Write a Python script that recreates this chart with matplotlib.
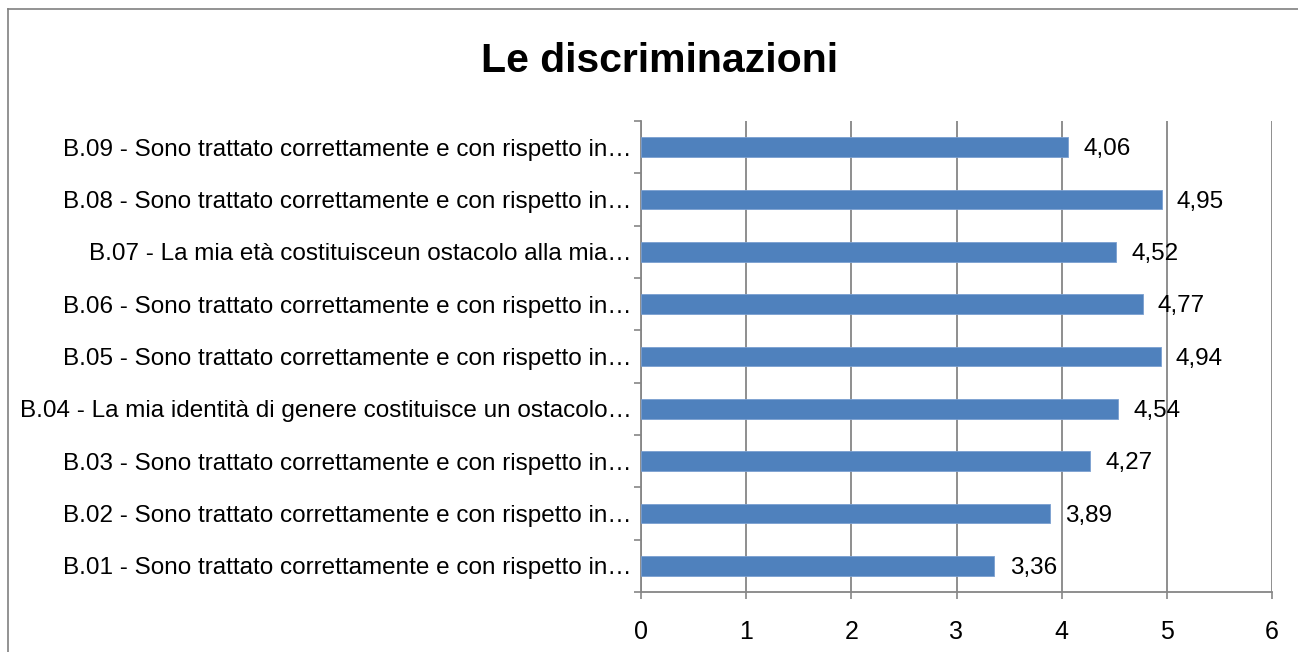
import matplotlib
matplotlib.use("Agg")
import matplotlib.pyplot as plt
from matplotlib.lines import Line2D
import numpy as np

plt.rcParams['font.family'] = ['Liberation Sans Narrow', 'Liberation Sans', 'DejaVu Sans']

title = "Le discriminazioni"
categories = [
    "B.01 - Sono trattato correttamente e con rispetto in…",
    "B.02 - Sono trattato correttamente e con rispetto in…",
    "B.03 - Sono trattato correttamente e con rispetto in…",
    "B.04 - La mia identità di genere costituisce un ostacolo…",
    "B.05 - Sono trattato correttamente e con rispetto in…",
    "B.06 - Sono trattato correttamente e con rispetto in…",
    "B.07 - La mia età costituisceun ostacolo alla mia…",
    "B.08 - Sono trattato correttamente e con rispetto in…",
    "B.09 - Sono trattato correttamente e con rispetto in…",
]
values = [3.36, 3.89, 4.27, 4.54, 4.94, 4.77, 4.52, 4.95, 4.06]
x_ticks = [0, 1, 2, 3, 4, 5, 6]

bar_color = "#4F81BD"
grid_color = "#868686"

fig = plt.figure(figsize=(12.98, 6.52), dpi=100)
ax = fig.add_axes([641/1298, 1 - 592/652, (1272 - 641)/1298, (592 - 121)/652])

y = np.arange(len(categories))
ax.barh(y, values, height=0.38, color=bar_color, edgecolor="#7A9FD0", linewidth=0.6, zorder=3)

ax.set_xlim(0, 6)
ax.set_ylim(-0.5, len(categories) - 0.5)
ax.set_xticks(x_ticks)
ax.set_xticklabels([str(t) for t in x_ticks], fontsize=18)
ax.set_yticks(y)
ax.set_yticklabels(categories, fontsize=17.5)
ax.set_yticks(np.arange(-0.5, len(categories), 1), minor=True)

ax.tick_params(axis='y', which='major', length=0, pad=7)
ax.tick_params(axis='y', which='minor', length=5, color=grid_color, width=1.2, direction='out')
ax.tick_params(axis='x', which='major', length=5, color=grid_color, width=1.2, direction='out', pad=15)

ax.grid(axis='x', color=grid_color, linewidth=1.3, zorder=0)
for s in ['top', 'right']:
    ax.spines[s].set_visible(False)
for s in ['left', 'bottom']:
    ax.spines[s].set_color(grid_color)
    ax.spines[s].set_linewidth(1.3)

for yi, v in zip(y, values):
    ax.annotate(f"{v:.2f}".replace('.', ','), xy=(v, yi), xytext=(11, -1.5),
                textcoords='offset points', ha='left', va='center', fontsize=17.5, zorder=4)

fig.text(660/1298, 1 - 61/652, title, ha='center', va='center', fontsize=29.5, fontweight='bold')

# chart border
fig.add_artist(Line2D([8/1298, 1.0], [1 - 9/652, 1 - 9/652], transform=fig.transFigure, color="#808080", linewidth=1.2))
fig.add_artist(Line2D([8/1298, 8/1298], [0.0, 1 - 9/652], transform=fig.transFigure, color="#808080", linewidth=1.2))

fig.savefig("out.png", dpi=100, facecolor="white")
